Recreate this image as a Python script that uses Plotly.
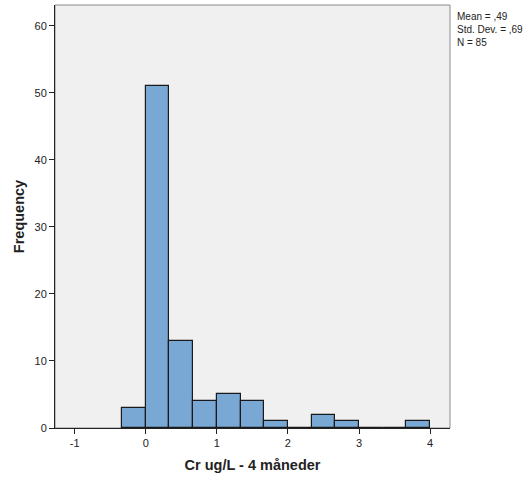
import plotly.graph_objects as go

bin_start = [-1/3, 0, 1/3, 2/3, 1, 4/3, 5/3, 2, 7/3, 8/3, 3, 10/3, 11/3]
counts = [3, 51, 13, 4, 5, 4, 1, 0, 2, 1, 0, 0, 1]
bin_width = 1/3
x_ticks = [-1, 0, 1, 2, 3, 4]
y_ticks = [0, 10, 20, 30, 40, 50, 60]
stats_text = "Mean = ,49<br>Std. Dev. = ,69<br>N = 85"

centers = [s + bin_width / 2 for s in bin_start]

fig = go.Figure()
fig.add_trace(go.Bar(
    x=centers, y=counts, width=[bin_width] * len(counts),
    marker=dict(color="#79A8D5", line=dict(color="#1a1a1a", width=1.2)),
    hoverinfo="skip",
))

font = "Liberation Sans, Arial, sans-serif"
fig.update_layout(
    width=526, height=477,
    margin=dict(l=55, r=76, t=5, b=49),
    paper_bgcolor="white", plot_bgcolor="#F0F0F0",
    showlegend=False, bargap=0,
    font=dict(family=font, size=11, color="#222"),
    xaxis=dict(range=[-1.276, 4.28], tickvals=x_ticks,
               ticktext=[str(t) for t in x_ticks],
               showgrid=False, zeroline=False, showline=True,
               linecolor="#222", linewidth=1,
               ticks="outside", ticklen=5, tickcolor="#222",
               title=dict(text="<b>Cr ug/L - 4 måneder</b>", font=dict(size=14.5), standoff=11)),
    yaxis=dict(range=[0, 63.1], tickvals=y_ticks,
               showgrid=False, zeroline=False, showline=True,
               linecolor="#222", linewidth=1,
               ticks="outside", ticklen=5, tickcolor="#222",
               title=dict(text="<b>Frequency</b>", font=dict(size=14.5), standoff=6)),
    shapes=[dict(type="rect", xref="paper", yref="paper", x0=0, y0=0, x1=1, y1=1,
                 line=dict(color="#8a8a8a", width=1), layer="below")],
    annotations=[dict(text=stats_text, xref="paper", yref="paper", x=1.012, y=0.99,
                      xanchor="left", yanchor="top", showarrow=False, align="left",
                      font=dict(size=10, color="#222"))],
)

fig.write_html("out.html")
